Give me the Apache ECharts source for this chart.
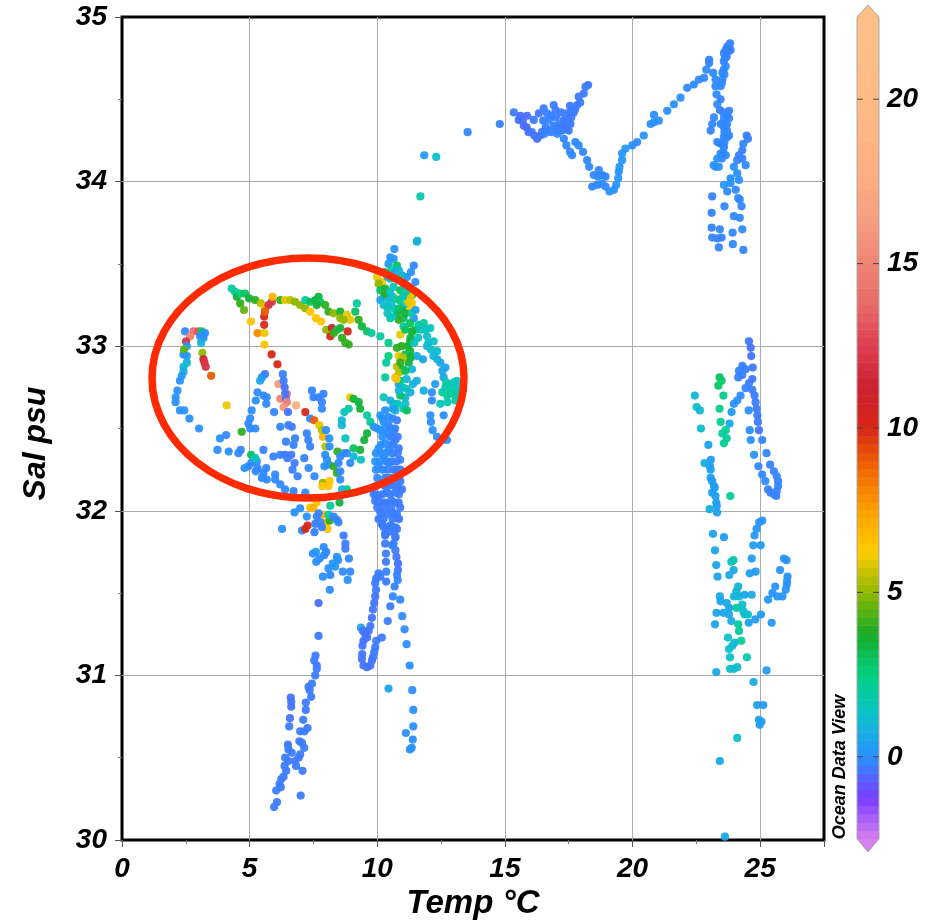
<!DOCTYPE html>
<html>
<head>
<meta charset="utf-8">
<style>html,body{margin:0;padding:0;background:#fff}#main{width:928px;height:920px}</style>
<script src="https://cdn.jsdelivr.net/npm/echarts@6/dist/echarts.min.js"></script>
</head>
<body>
<div id="main"></div>
<script>
// [temp, sal, value]
const warmTail = [[13.54,34.30,-.1],[14.80,34.35,-.2],[15.35,34.42,-.3],[15.61,34.40,-.5],[15.87,34.40,-.5],[15.54,34.375,-.4],[15.74,34.34,-.5],[15.93,34.30,-.4],[16.26,34.26,-.4],[16.39,34.28,-.4],[16.65,34.31,-.2],[16.13,34.375,-.3],[16.33,34.415,-.4],[16.52,34.445,-.3],[16.91,34.465,-.3],[16.98,34.435,-.3],[16.65,34.415,-.2],[16.72,34.375,-.1],[16.91,34.34,-.2],[17.05,34.29,-.2],[17.24,34.31,-.3],[17.5,34.31,-.3],[17.57,34.35,-.3],[17.31,34.375,-.3],[17.44,34.415,-.3],[17.63,34.445,-.3],[17.83,34.465,-.3],[17.89,34.516,-.3],[18.09,34.535,-.3],[18.16,34.577,-.3],[18.26,34.587,-.3],[17.0,34.39,-.2],[17.15,34.35,-.2],[17.35,34.33,-.3],[17.31,34.26,-.1],[17.41,34.22,-.1],[17.76,34.24,-.1],[17.89,34.22,-.1],[17.63,34.16,-.1],[17.55,34.18,-.1],[18.06,34.18,-.1],[18.22,34.13,-.1],[18.30,34.09,-.1],[18.68,34.07,-.1],[18.48,34.04,-.1],[18.81,34.04,-.1],[18.65,34.03,-.1],[18.94,34.03,-.1],[18.42,33.97,-.1],[18.61,33.98,-.1],[18.81,33.985,-.1],[18.94,33.97,-.1],[19.10,33.94,0],[19.27,33.95,0],[19.36,33.98,0],[19.44,34.02,.1],[19.46,34.06,.1],[19.49,34.09,.1],[19.59,34.13,.1],[19.59,34.17,.2],[19.72,34.20,.2],[19.99,34.22,0],[20.18,34.24,0],[20.44,34.28,0],[20.71,34.35,0],[20.84,34.405,0],[21.03,34.37,0],[20.84,34.36,0],[21.36,34.43,0],[21.62,34.47,0],[21.88,34.51,0],[22.14,34.57,-.1],[22.40,34.59,-.1],[22.6,34.62,-.1],[22.8,34.63,-.1],[22.89,34.68,-.1],[23.0,34.74,-.2],[23.0,34.72,-.2],[23.16,34.66,-.1]];

const warmFill = [[16.5,34.37,-.2],[16.8,34.4,-.2],[16.6,34.33,-.2],[16.8,34.3,-.2],[17.0,34.33,-.2],[17.1,34.31,-.2],[17.25,34.34,-.3],[17.4,34.33,-.3],[17.45,34.38,-.3],[17.6,34.39,-.3],[17.7,34.42,-.3],[17.75,34.44,-.3],[17.95,34.48,-.3],[17.55,34.46,-.3],[17.6,34.42,-.3],[17.2,34.42,-.3],[15.7,34.37,-.5],[16.05,34.3,-.4],[16.15,34.28,-.4],[15.85,34.33,-.5],[16.45,34.3,-.3],[16.55,34.29,-.2],[23.55,34.42,-.1],[23.7,34.4,-.1],[23.55,34.35,-.1],[23.7,34.35,-.1],[23.6,34.3,-.1],[23.7,34.27,-.1],[23.6,34.24,-.1],[23.55,34.18,-.1],[23.5,34.14,-.1],[23.75,34.79,-.2],[23.65,34.8,-.2],[23.62,34.75,-.2],[23.57,34.68,-.1],[23.6,34.65,-.1],[23.5,34.6,-.1]];

const warmColumn = [[23.25,34.62,-.1],[23.25,34.58,-.1],[23.29,34.53,-.1],[23.45,34.50,-.2],[23.32,34.47,-.1],[23.42,34.435,-.2],[23.78,34.43,-.2],[23.19,34.39,-.1],[23.12,34.35,-.1],[23.06,34.31,-.2],[23.58,34.385,-.1],[23.78,34.385,-.1],[23.58,34.33,-.1],[23.45,34.35,-.1],[23.7,34.31,-.1],[23.78,34.28,-.1],[23.58,34.27,-.1],[23.32,34.24,-.1],[23.58,34.21,-.1],[23.45,34.23,-.1],[23.65,34.16,-.1],[23.45,34.17,-.1],[23.32,34.14,0],[23.25,34.09,0],[23.38,34.09,0],[23.18,34.1,0],[23.82,34.84,-.2],[23.71,34.82,-.2],[23.84,34.80,-.2],[23.58,34.78,-.2],[23.69,34.76,-.2],[23.58,34.73,-.1],[23.65,34.70,-.1],[23.52,34.66,-.1],[23.52,34.62,-.1],[23.45,34.58,-.1],[24.47,34.28,-.2],[24.52,34.26,-.2],[24.34,34.23,-.2],[24.30,34.19,-.2],[24.17,34.16,-.2],[24.10,34.13,-.2],[24.30,34.14,-.2],[23.97,34.09,0],[24.43,34.10,-.1],[24.1,34.05,0],[23.84,34.02,0],[24.17,34.01,0],[23.58,33.98,.2],[23.84,33.99,0],[23.71,33.94,-.1],[24.04,33.95,-.1],[24.14,33.90,-.1],[24.2,33.89,-.1],[24.27,33.85,-.1],[23.6,33.85,-.2],[23.12,33.91,-.2],[23.1,33.81,-.2],[23.97,33.79,-.1],[24.2,33.78,-.1],[23.1,33.72,-.2],[23.42,33.71,-.1],[24.3,33.71,-.1],[23.92,33.69,-.1],[23.12,33.66,-.2],[23.32,33.655,-.2],[23.49,33.66,-.2],[23.38,33.60,-.2],[23.93,33.62,-.1],[24.34,33.585,-.2]];

const warmLower = [[24.56,33.03,-.4],[24.63,32.99,-.4],[24.65,32.94,-.4],[24.71,32.87,-.3],[24.3,32.88,-.2],[24.17,32.85,-.2],[24.43,32.86,-.2],[24.3,32.825,-.2],[24.14,32.81,-.2],[24.69,32.80,-.3],[24.56,32.775,-.3],[24.43,32.745,-.2],[24.23,32.70,-.1],[24.1,32.67,0],[23.97,32.65,.1],[24.69,32.735,-.3],[24.78,32.70,-.3],[24.82,32.66,-.3],[24.86,32.62,-.3],[24.89,32.58,-.3],[24.91,32.54,-.3],[24.95,32.49,-.4],[24.55,32.61,0],[23.88,32.60,.3],[23.8,32.53,.6],[24.59,32.49,0],[24.63,32.43,0],[25.08,32.43,-.2],[24.76,32.34,.1],[25.25,32.35,-.1],[24.93,32.27,-.1],[25.39,32.28,-.2],[25.54,32.24,-.2],[25.08,32.22,-.1],[25.65,32.21,-.2],[25.2,32.18,-.1],[25.7,32.18,-.2],[25.7,32.15,-.2],[25.31,32.13,-.2],[25.41,32.11,-.2],[25.54,32.10,-.2],[25.63,32.09,-.2],[25.65,32.12,-.2],
[22.44,32.70,1],[22.51,32.63,1.3],[22.64,32.61,1],[22.68,32.50,1.2],[22.97,32.40,.5],[22.82,32.29,.8],[23.07,32.31,.3],[23.03,32.27,.4],[23.06,32.25,.4],[23.06,32.20,.4],[23.12,32.18,.4],[23.19,32.15,.4],[23.22,32.14,.4],[23.12,32.11,.4],[23.25,32.09,.4],[23.28,32.05,.4],[23.3,32.03,.4],[23.02,32.01,.8],[23.31,31.99,.4],
[23.41,32.81,3],[23.49,32.79,2.7],[23.36,32.76,2.8],[23.56,32.70,2.3],[23.41,32.62,2.4],[23.45,32.54,2.2],[23.65,32.49,2.1],[23.52,32.47,2],[23.69,32.44,2.1],[23.58,32.41,2.1],[23.83,32.09,2.2],
[25.08,31.94,.1],[24.96,31.93,.1],[24.86,31.89,.2],[24.78,31.85,.2],[24.73,31.79,.3],[25.02,31.79,.3],[23.15,31.86,.5],[23.58,31.84,.4],[23.23,31.76,.5],[24.67,31.71,.3],[23.95,31.70,2],[23.87,31.69,1.6],[23.28,31.67,.6],[23.96,31.64,.7],[23.79,31.61,.6],[23.33,31.60,.5],[24.59,31.62,.4],[24.82,31.63,.3],[25.93,31.71,.1],[26.03,31.70,.1],[25.78,31.64,.1],[26.07,31.60,.1],[26.05,31.57,.1],[26.04,31.55,.1],[26.0,31.52,.1],[25.59,31.54,.1],[25.48,31.50,.1],[25.67,31.48,.1],[25.87,31.48,.1],[25.31,31.46,.2],[25.03,31.37,.3],[24.81,31.34,.3],[24.55,31.32,.4],[25.45,31.32,.2],
[24.14,31.54,1],[24.07,31.51,1],[23.97,31.48,1],[24.17,31.48,1],[24.39,31.49,.6],[24.67,31.49,.7],[23.42,31.48,.6],[23.45,31.45,.6],[23.69,31.44,.6],[24.3,31.43,1.2],[24.07,31.41,2],[23.78,31.41,.6],[24.34,31.39,1.2],[24.39,31.37,1.3],[24.52,31.37,1.3],[23.29,31.38,.5],[23.56,31.38,.5],[23.78,31.37,.6],[23.23,31.31,.5],[23.87,31.33,.8],[24.14,31.31,2],[24.17,31.27,2],[24.26,31.21,2.2],[23.74,31.23,1.3],[24.0,31.20,1.1],[23.91,31.18,1.1],[23.78,31.16,1.2],[23.82,31.11,1.3],[24.48,31.11,1.7],[23.82,31.04,1.3],[23.97,31.04,1.2],[24.1,31.05,1.1],[23.28,31.02,.6],[25.25,31.03,.3],
[24.74,30.96,.7],[24.88,30.82,.4],[25.12,30.82,.3],[24.95,30.73,.4],[25.05,30.72,.3],[24.98,30.70,.4],[24.1,30.62,1.3],[23.42,30.48,.6],[23.62,30.02,.6]];

const hookLeft = [[2.47,33.09,-.1],[2.8,33.09,14],[2.67,33.06,15],[2.51,33.03,12],[2.99,33.09,13],[3.12,33.09,2.8],[3.06,33.06,0],[3.25,33.08,0],[3.19,33.05,0],[3.1,33.02,1],[3.15,32.96,5],[3.19,32.92,11],[3.23,32.9,12],[3.28,32.875,12],[3.49,32.82,9],[2.54,33.0,.4],[2.41,32.95,0],[2.43,32.98,4.5],[2.54,32.94,.2],[2.41,32.875,1],[2.54,32.9,1],[2.41,32.845,.7],[2.34,32.82,.3],[2.27,32.79,0],[2.17,32.73,0],[2.1,32.69,0],[2.1,32.66,0],[2.27,32.61,0],[2.44,32.61,0],[2.64,32.56,0],[3.02,32.5,0],[4.1,32.64,6]];

const trailTop = [[4.3,33.35,2],[4.43,33.33,2.2],[4.5,33.30,3.5],[4.63,33.32,2.5],[4.82,33.32,3],[4.63,33.26,4],[4.78,33.22,4.5],[4.98,33.29,3.5],[5.22,33.28,4],[5.44,33.26,5.5],[5.6,33.23,7],[5.87,33.27,12],[5.74,33.25,12],[5.57,33.18,10],[5.6,33.21,9],[5.05,33.15,6.5],[5.31,33.08,8],[5.57,33.13,10],[5.58,33.08,6],[5.58,33.01,6.5],[5.86,32.95,10],[6.09,32.89,10],[5.9,33.30,7],[6.2,33.28,4],[6.39,33.28,6],[6.59,33.28,5.5],[6.78,33.27,5],[6.98,33.25,5],[7.18,33.23,5],[7.37,33.21,6.5],[7.6,33.17,6.5],[7.8,33.15,6.5],[7.18,33.28,2],[7.37,33.27,3],[7.57,33.28,3.5],[7.7,33.30,3.5],[7.76,33.27,3],[7.63,33.25,3.5],[7.96,33.25,4],[8.09,33.21,4],[8.29,33.2,5],[8.55,33.21,3.5],[8.55,33.17,5],[8.81,33.19,6],[8.94,33.16,6],[8.68,33.16,5],[9.14,33.21,3],[9.2,33.26,2],[9.27,33.16,4],[9.4,33.12,3.5],[9.6,33.09,3],[9.77,33.08,2],[8.0,33.1,5],[8.22,33.11,11],[8.42,33.1,3],[8.55,33.11,3.5],[8.84,33.09,10],[8.16,33.06,10],[8.3,33.08,4],[8.62,33.05,4],[8.75,33.02,4],[8.88,33.01,4]];

const midBlue = [[5.6,32.83,-.3],[5.48,32.81,0],[5.41,32.79,.5],[5.31,32.72,-.1],[5.54,32.7,-.1],[5.67,32.69,-.1],[5.24,32.67,0],[5.65,32.65,-.1],[5.08,32.61,0],[5.02,32.56,-.1],[4.95,32.53,-.1],[5.22,32.5,-.1],[5.02,32.5,-.1],[5.96,32.6,-.1],[6.2,32.51,-.1],[6.52,32.52,-.3],[6.65,32.51,-.3],[6.42,32.42,-.2],[6.78,32.44,-.2],[6.72,32.4,-.2],[7.24,32.47,-.2],[7.3,32.43,-.2],[7.37,32.39,-.2],[5.54,32.37,-.2],[5.93,32.33,-.2],[6.2,32.34,-.2],[6.39,32.34,-.3],[6.63,32.34,-.3],[6.48,32.32,-.3],[7.14,32.32,-.2],[6.76,32.29,-.3],[6.68,32.25,-.2],[6.88,32.21,-.2],[7.31,32.26,-.1],[7.54,32.21,-.1],[5.06,32.29,-.1],[5.28,32.3,-.1],[4.95,32.27,-.1],[5.31,32.26,-.1],[4.8,32.26,0],[5.24,32.24,-.1],[5.65,32.26,-.1],[5.54,32.23,-.1],[5.48,32.2,-.1],[5.67,32.19,-.1],[6.0,32.22,-.1],[6.0,32.19,-.1],[6.2,32.16,-.1],[6.39,32.13,-.1],[6.72,32.12,-.1],[7.18,32.11,0],[3.74,32.37,0],[4.18,32.36,0],[4.56,32.35,-.1],[4.65,32.37,-.1],[3.84,32.44,0],[4.08,32.46,-.1],[4.69,32.48,4],[5.06,32.34,3],[5.22,32.32,1.5],
[6.3,32.83,-.2],[6.13,32.77,16],[6.33,32.79,-.3],[6.37,32.75,-.4],[6.46,32.71,15],[6.39,32.71,-.4],[6.2,32.68,15],[6.42,32.68,-.4],[6.33,32.63,16],[6.46,32.66,15],[6.5,32.6,-.4],[6.82,32.64,17.5],[7.18,32.6,10],[7.37,32.56,-.1],[7.53,32.55,9],[7.73,32.52,6],[7.87,32.45,7],[7.83,32.49,5.5],[7.99,32.49,0],[8.12,32.44,0],[7.97,32.39,5.5],[8.13,32.39,0],[7.96,32.34,0],[8.03,32.31,0],[8.09,32.28,0],[7.93,32.27,0],[7.44,32.73,-.2],[7.5,32.69,-.2],[7.7,32.69,-.2],[7.89,32.71,-.2],[7.83,32.66,-.2],[7.83,32.62,-.1]];

const arcGreen = [[8.94,32.69,6],[9.07,32.68,3.5],[9.27,32.66,3.5],[9.33,32.62,3.5],[8.88,32.62,2],[8.71,32.6,1.5],[8.61,32.55,1],[8.61,32.52,1],[9.6,32.58,2],[9.73,32.54,2.2],[9.6,32.47,3.5],[9.49,32.43,3.5],[9.33,32.37,3.5],[9.07,32.38,3],[8.75,32.44,1.5],[8.44,32.36,4],[8.29,32.27,4],[8.42,32.23,4],[7.87,32.17,5],[8.13,32.18,6.5],[8.09,32.15,6.5],[7.85,32.15,6.5],[8.81,32.13,2.5],[8.52,32.05,3.5],[8.16,32.03,2],[7.62,32.05,6.5],[7.37,32.02,6.5],[8.71,32.35,.3],[8.55,32.33,-.1],[8.48,32.29,-.1],[8.55,32.24,-.1],[8.55,32.19,-.1],[8.62,32.13,1],[8.55,32.09,0],[8.94,32.29,-.1],[8.81,32.35,-.1],[9.07,32.33,1],[9.36,32.31,1.5]];

const shelfBottom = [[6.76,31.99,0],[6.98,32.015,0],[6.27,31.89,0],[7.05,31.88,-.1],[7.54,31.87,-.2],[7.27,31.91,10],[7.18,31.89,10],[7.5,32.015,7],[7.83,31.975,7],[7.96,31.925,7],[8.05,31.89,6.5],[8.13,31.94,4],[8.09,31.975,2],[7.24,31.965,.1],[7.63,31.965,-.2],[7.77,31.93,-.2],[7.57,31.92,-.2],[7.83,31.90,-.2],[7.7,31.985,-.2],[8.42,31.945,-.2],[8.48,31.93,-.2],[8.29,31.965,-.2],[8.68,31.85,-.3],[8.75,31.80,-.3],[8.75,31.77,-.3],[7.9,31.78,-.1],[8.0,31.75,-.1],[7.92,31.73,-.1],[7.6,31.75,.3],[7.48,31.74,0],[7.74,31.71,0],[7.61,31.69,0],[8.42,31.72,0],[8.46,31.70,0],[8.89,31.71,-.1],[8.26,31.68,.2],[8.35,31.66,.2],[8.09,31.65,0],[8.16,31.61,-.1],[7.87,31.60,0],[8.65,31.63,-.1],[8.94,31.63,-.1],[8.84,31.58,0],[8.14,31.52,0]];

const coldTail = [[7.7,31.44,-.5],[7.7,31.24,-.3],[7.58,31.12,-.3],[7.53,31.09,-.3],[7.63,31.06,-.3],[7.63,31.04,-.3],[7.57,31.0,-.3],[7.44,30.95,-.3],[7.31,30.93,-.3],[7.35,30.91,-.3],[7.41,30.87,-.3],[6.61,30.865,-.4],[6.63,30.84,-.4],[6.63,30.81,-.4],[7.2,30.835,-.3],[7.2,30.79,-.3],[6.58,30.74,-.4],[7.1,30.73,-.3],[6.55,30.69,-.3],[7.27,30.68,-.3],[7.15,30.66,-.3],[6.98,30.66,-.3],[6.95,30.60,-.3],[7.05,30.59,-.3],[7.14,30.56,-.3],[6.5,30.58,-.3],[6.52,30.55,-.3],[6.65,30.53,-.3],[6.98,30.52,-.3],[6.92,30.50,-.3],[6.39,30.50,-.3],[6.52,30.48,-.3],[6.78,30.48,-.3],[6.82,30.45,-.3],[6.37,30.45,-.3],[6.43,30.42,-.3],[7.07,30.42,-.3],[6.33,30.385,-.3],[6.24,30.37,-.3],[6.17,30.34,-.3],[6.22,30.32,-.3],[6.04,30.30,-.2],[7.0,30.27,-.3],[6.07,30.23,-.3],[5.96,30.20,-.3]];

const loopTen = [[10.05,31.62,-.2],[9.96,31.59,-.3],[9.92,31.56,-.3],[10.12,31.60,-.3],[10.35,31.63,-.2],[10.35,31.57,-.3],[9.95,31.52,-.3],[9.92,31.48,-.4],[9.88,31.44,-.4],[9.83,31.40,-.4],[9.79,31.35,-.4],[9.36,31.29,.6],[9.73,31.30,-.4],[9.66,31.27,-.4],[9.53,31.25,-.4],[9.44,31.27,-.4],[9.6,31.23,-.4],[9.46,31.21,-.4],[9.42,31.18,-.4],[9.96,31.21,-.3],[10.18,31.23,-.3],[9.92,31.17,-.3],[9.88,31.14,-.3],[9.83,31.11,-.3],[9.41,31.13,-.4],[9.4,31.10,-.4],[9.46,31.06,-.4],[9.6,31.05,-.4],[9.73,31.06,-.4],[9.79,31.09,-.4],
[10.68,31.54,-.2],[10.61,31.48,-.1],[10.9,31.46,-.1],[10.51,31.42,-.3],[10.98,31.36,-.1],[10.41,31.33,-.3],[11.07,31.28,-.1],[11.15,31.19,0],[11.27,31.06,0],[10.44,30.92,.5],[11.37,30.91,0],[11.41,30.79,0],[11.41,30.69,0],[11.12,30.65,0],[11.39,30.61,0],[11.35,30.56,.1],[11.28,30.55,.1],
[10.64,31.80,-.2],[10.71,31.76,-.3],[10.75,31.72,-.4],[10.81,31.68,-.4],[10.81,31.64,-.4],[10.77,31.61,-.2],[10.8,31.58,-.2],[10.31,31.86,-.3],[10.31,31.80,-.3],[10.34,31.74,-.3],[10.34,31.69,-.3],[10.71,31.84,-.2],[10.58,31.79,-.2],[10.77,31.89,-.3],[10.77,31.96,-.3],[10.18,31.92,-.3],[10.2,31.98,-.3],[10.38,31.90,-.3],[10.6,31.99,-.3]];

const upperScatter = [[11.84,34.16,.3],[12.31,34.15,1.3],[11.69,33.91,1.8],[11.57,33.64,1.5],[11.55,33.635,.8]];

const tenCluster = [[10.67,33.59,0],[10.51,33.54,0],[10.44,33.50,.3],[10.64,33.53,.3],[11.43,33.49,-.1],[11.32,33.45,0],[11.16,33.42,.2],[11.49,33.39,0],[10.77,33.49,3],[10.58,33.47,2],[10.71,33.45,.5],[10.97,33.43,.5],[10.51,33.41,1],[9.99,33.42,6],[10.18,33.39,6.5],[10.05,33.38,5],[10.12,33.34,3],[10.31,33.35,3.5],[10.25,33.30,1.5],[10.44,33.29,1],[10.64,33.36,1.5],[10.71,33.29,6],[10.12,33.28,.6],[10.38,33.24,2],[10.25,33.25,1.2],[10.9,33.34,3],[11.03,33.38,1],[11.16,33.30,3.5],[11.36,33.26,6.5],[11.23,33.22,6.5],[11.36,33.31,3.5],[10.77,33.2,3.5],[11.03,33.17,3],[10.51,33.17,2],[10.64,33.23,1.5],[11.03,33.25,1.2],[11.43,33.17,0],[11.29,33.14,3],[11.49,33.10,3],[11.03,33.12,2],[10.84,33.16,4],[10.9,33.07,6],[11.82,33.14,2],[12.08,33.11,1.5],[11.62,33.13,2],[11.36,33.09,3.5],[11.95,33.06,1.3],[12.21,33.03,1.3],[12.34,32.97,1.2],[11.79,32.92,.5],[11.95,33.0,1],[12.47,32.9,.6],[12.67,32.87,.5],[12.6,32.81,.7],[12.67,32.75,1.5],[12.86,32.71,2.3],[13.12,32.75,1.5],[13.06,32.67,2],[12.73,32.7,2.2],[13.12,32.79,1.3],[12.47,32.65,1.5],[12.27,32.77,.3],[12.14,32.72,-.1],[12.14,32.67,-.1],[12.08,32.58,0],[12.1,32.54,0],[12.6,32.58,0],[12.17,32.49,0],[12.34,32.45,0],[12.54,32.43,0],[12.73,32.43,0],[10.12,33.06,2],[10.44,33.02,2.3],[10.77,32.99,4],[10.84,32.94,6],[11.29,33.03,3.5],[11.29,32.97,3.5],[11.23,32.9,3.5],[11.36,32.86,1],[11.55,32.94,.8],[11.55,32.79,.8],[10.44,32.94,2.5],[10.35,32.90,2],[10.77,32.875,5.5],[10.71,32.81,6.5],[10.84,32.77,.2],[10.9,32.79,2.5],[11.16,32.74,2],[11.82,32.73,.8],[11.1,32.69,1],[10.9,32.7,3],[10.31,32.81,2],[10.25,32.69,1.5],[10.64,32.65,1],[11.03,32.62,2],[11.16,32.61,3],[10.71,32.61,.8],[10.51,32.67,.8]];

const clusterFill = [[10.3,33.45,3],[10.4,33.42,1],[10.6,33.42,.6],[10.85,33.46,1],[10.9,33.41,2],[10.3,33.32,4],[10.5,33.33,1.5],[10.6,33.3,1.2],[10.85,33.28,2.5],[10.95,33.22,3.5],[10.55,33.26,1.3],[10.4,33.2,1.5],[10.6,33.18,1.5],[10.85,33.23,3],[11.1,33.2,3.5],[11.2,33.27,6],[11.3,33.3,6],[11.1,33.33,2],[11.2,33.36,1],[11.0,33.3,1.5],[11.35,33.2,2],[11.5,33.22,.5],[11.1,33.1,3],[11.3,33.05,3.5],[11.2,33.0,3.5],[11.1,32.95,3],[11.3,32.93,3.5],[11.45,33.02,1.5],[11.6,33.05,1.5],[11.7,33.1,1.5],[11.9,33.1,1.5],[12.0,33.02,1.2],[12.1,32.98,1.2],[12.2,32.94,1],[12.35,32.92,.8],[12.55,32.85,.6],[11.0,32.93,5.5],[10.95,33.0,4],[11.0,32.86,3.5],[10.85,32.84,5.5],[10.75,32.8,6.5],[10.9,32.9,4],[11.1,32.85,3],[11.15,32.8,1],[11.4,32.77,.8],[11.3,32.72,.8],[11.0,32.75,1.5],[10.85,32.73,1],[11.1,32.65,1.2],[10.8,32.65,1.5],[10.6,32.62,.5],[12.7,32.78,1.8],[12.85,32.76,2],[12.95,32.72,2],[13.1,32.7,2],[13.0,32.78,1.5],[12.55,32.72,2],[12.75,32.66,1.8],[13.15,32.72,1.8]];

const tenDense = [[10.12,32.58,.1],[10.31,32.61,.1],[10.44,32.57,0],[10.25,32.54,.1],[10.44,32.52,-.1],[10.77,32.55,-.3],[9.86,32.51,.2],[10.12,32.49,.1],[10.38,32.47,0],[10.64,32.48,-.2],[10.71,32.43,-.3],[10.31,32.41,0],[10.05,32.38,.1],[10.44,32.37,-.1],[10.84,32.38,-.3],[10.9,32.31,-.2],[10.25,32.33,0],[9.92,32.3,.1],[10.05,32.27,.1],[10.44,32.29,-.1],[10.64,32.25,-.3],[10.9,32.25,-.2],[10.31,32.2,-.2],[10.12,32.17,-.2],[10.51,32.16,-.3],[10.9,32.18,-.3],[9.86,32.1,-.1],[10.05,32.09,-.3],[10.38,32.11,-.3],[10.71,32.11,-.3],[10.97,32.13,-.3],[9.92,32.06,-.3],[10.25,32.05,-.3],[10.57,32.06,-.3],[10.84,32.05,-.3],[10.12,31.99,-.3],[10.44,31.98,-.3],[10.77,31.98,-.3],[10.18,31.92,-.3],[10.51,31.91,-.3],[10.71,31.9,-.3],[10.31,31.85,-.3],[10.71,31.84,-.3]];

const tenDenseFill = [[10.2,32.56,.1],[10.6,32.56,-.1],[10.0,32.5,.1],[10.3,32.5,0],[10.55,32.5,-.1],[10.7,32.5,-.2],[10.2,32.45,.1],[10.5,32.45,-.1],[10.6,32.45,-.2],[10.8,32.45,-.3],[10.15,32.4,0],[10.55,32.4,-.1],[10.62,32.4,-.2],[9.95,32.35,.1],[10.15,32.35,0],[10.35,32.35,0],[10.6,32.35,-.2],[10.8,32.35,-.3],[10.1,32.3,0],[10.35,32.3,-.1],[10.55,32.3,-.2],[10.75,32.3,-.3],[9.95,32.25,0],[10.2,32.25,-.1],[10.4,32.25,-.2],[10.75,32.25,-.3],[10.0,32.2,-.1],[10.5,32.2,-.3],[10.7,32.2,-.3],[10.82,32.2,-.3],[9.95,32.15,-.2],[10.3,32.15,-.3],[10.4,32.15,-.3],[10.65,32.15,-.3],[10.8,32.15,-.3],[9.95,32.1,-.3],[10.2,32.1,-.3],[10.5,32.1,-.3],[10.85,32.1,-.3],[10.05,32.05,-.3],[10.4,32.05,-.3],[10.7,32.05,-.3],[10.0,32.02,-.3],[10.3,32.02,-.3],[10.55,32.02,-.3],[10.9,32.02,-.3],[10.05,31.95,-.3],[10.25,31.95,-.3],[10.6,31.95,-.3],[10.85,31.95,-.3],[10.25,31.9,-.3],[10.6,31.9,-.3],[10.4,31.87,-.3],[10.65,31.87,-.3]];

const colorbarTicks = [0, 5, 10, 15, 20];
// evenly spaced from -2.5 to 22.5
const colorStops = ['#d680f0','#7a3cff','#2a90ff','#0cc0cc','#00d080','#18ac28','#90b800','#ffcc00','#ffa000','#f06800','#d82818','#cc2030','#dc4050','#e86a68','#ee8472','#f59c80','#fcac82','#ffb484','#ffbb84','#ffbe86','#ffc088'];

const labelFont = { fontFamily: 'Liberation Sans', fontWeight: 'bold', fontStyle: 'italic', color: '#000' };

const colorbarBands = [];
for (let v = -2.5; v < 22.5; v += 0.25) colorbarBands.push([v, v + 0.25]);

const chart = echarts.init(document.getElementById('main'));
chart.setOption({
    animation: false,
    backgroundColor: '#fff',
    grid: [
        { left: 122, top: 17, width: 702, height: 823, outerBoundsMode: 'none', show: true, borderColor: '#000', borderWidth: 3, backgroundColor: 'transparent' },
        { left: 857, top: 17, width: 22, height: 822, outerBoundsMode: 'none' }
    ],
    xAxis: [{
        type: 'value', min: 0, max: 27.5, interval: 5, gridIndex: 0,
        axisLine: { show: false },
        axisTick: { show: true, length: 7, lineStyle: { color: '#555', width: 1 } },
        minorTick: { show: true, splitNumber: 2, length: 4, lineStyle: { color: '#777', width: 1 } },
        splitLine: { show: true, showMinLine: false, showMaxLine: false, lineStyle: { color: '#aaa', width: 1 } },
        axisLabel: { margin: 15, fontSize: 28, showMaxLabel: false, ...labelFont },
        name: 'Temp °C', nameLocation: 'middle', nameGap: 44,
        nameTextStyle: { fontSize: 33, ...labelFont }
    }, {
        type: 'value', min: 0, max: 1, gridIndex: 1, show: false
    }],
    yAxis: [{
        type: 'value', min: 30, max: 35, interval: 1, gridIndex: 0,
        axisLine: { show: false },
        axisTick: { show: true, length: 7, lineStyle: { color: '#555', width: 1 } },
        minorTick: { show: true, splitNumber: 2, length: 4, lineStyle: { color: '#777', width: 1 } },
        splitLine: { show: true, showMinLine: false, showMaxLine: false, lineStyle: { color: '#aaa', width: 1 } },
        axisLabel: { margin: 15, fontSize: 28, ...labelFont },
        name: 'Sal psu', nameLocation: 'middle', nameGap: 70,
        nameTextStyle: { fontSize: 32, padding: [0, 0, 0, -30], ...labelFont }
    }, {
        type: 'value', min: -2.5, max: 22.5, gridIndex: 1, position: 'right',
        axisLine: { show: false }, splitLine: { show: false }, axisTick: { show: false },
        axisLabel: { margin: 8, fontSize: 28, customValues: colorbarTicks, ...labelFont }
    }],
    visualMap: {
        show: false, type: 'continuous', seriesIndex: 0, dimension: 2,
        min: -2.5, max: 22.5, inRange: { color: colorStops }
    },
    graphic: [{
        type: 'ellipse', z: 100,
        shape: { cx: 308, cy: 378, rx: 156, ry: 120 },
        style: { fill: 'none', stroke: '#ff2a00', lineWidth: 7.5 }
    }, {
        type: 'text', z: 100, x: 840, y: 767, rotation: Math.PI / 2,
        style: { text: 'Ocean Data View', x: 0, y: 0, align: 'center', verticalAlign: 'middle', font: 'italic bold 18px "Liberation Sans"', fill: '#000' }
    }],
    series: [{
        type: 'scatter', xAxisIndex: 0, yAxisIndex: 0, z: 3,
        symbolSize: 8.2,
        itemStyle: { opacity: 0.95 },
        data: [].concat(warmTail, warmFill, warmColumn, warmLower, hookLeft, trailTop, midBlue, arcGreen, shelfBottom, coldTail, loopTen, upperScatter, tenCluster, clusterFill, tenDense, tenDenseFill)
    }, {
        type: 'custom', xAxisIndex: 1, yAxisIndex: 1, z: 2,
        data: colorbarBands,
        encode: { y: [0, 1] },
        renderItem(params, api) {
            const lo = api.value(0), hi = api.value(1);
            const p0 = api.coord([0, hi]), p1 = api.coord([1, lo]);
            const t = ((lo + hi) / 2 + 2.5) / 25;
            return {
                type: 'rect',
                shape: { x: p0[0], y: p0[1], width: p1[0] - p0[0], height: p1[1] - p0[1] + 0.5 },
                style: { fill: echarts.color.lerp(t, colorStops) }
            };
        }
    }, {
        // arrow ends and outline of the colour bar
        type: 'custom', xAxisIndex: 1, yAxisIndex: 1, z: 3,
        data: [[-2.5, 22.5]],
        encode: { y: [0, 1] },
        renderItem(params, api) {
            const tl = api.coord([0, api.value(1)]), tr = api.coord([1, api.value(1)]);
            const bl = api.coord([0, api.value(0)]), br = api.coord([1, api.value(0)]);
            const mid = (tl[0] + tr[0]) / 2;
            return {
                type: 'group',
                children: [{
                    type: 'polygon',
                    shape: { points: [tl, [mid, tl[1] - 12], tr] },
                    style: { fill: colorStops[colorStops.length - 1] }
                }, {
                    type: 'polygon',
                    shape: { points: [bl, [mid, bl[1] + 13], br] },
                    style: { fill: colorStops[0] }
                }, {
                    type: 'polygon',
                    shape: { points: [tl, [mid, tl[1] - 12], tr, br, [mid, bl[1] + 13], bl] },
                    style: { fill: 'none', stroke: '#aaa', lineWidth: 1 }
                }]
            };
        }
    }, {
        // dashes across the colour bar at the labelled values
        type: 'custom', xAxisIndex: 1, yAxisIndex: 1, z: 4,
        data: colorbarTicks.map(v => [v]),
        encode: { y: 0 },
        renderItem(params, api) {
            const a = api.coord([0, api.value(0)]), b = api.coord([1, api.value(0)]);
            const stroke = { stroke: '#444', lineWidth: 1 };
            return {
                type: 'group',
                children: [
                    { type: 'line', shape: { x1: a[0], y1: a[1], x2: a[0] + 6, y2: a[1] }, style: stroke },
                    { type: 'line', shape: { x1: b[0] - 6, y1: b[1], x2: b[0], y2: b[1] }, style: stroke }
                ]
            };
        }
    }]
});
</script>
</body>
</html>
